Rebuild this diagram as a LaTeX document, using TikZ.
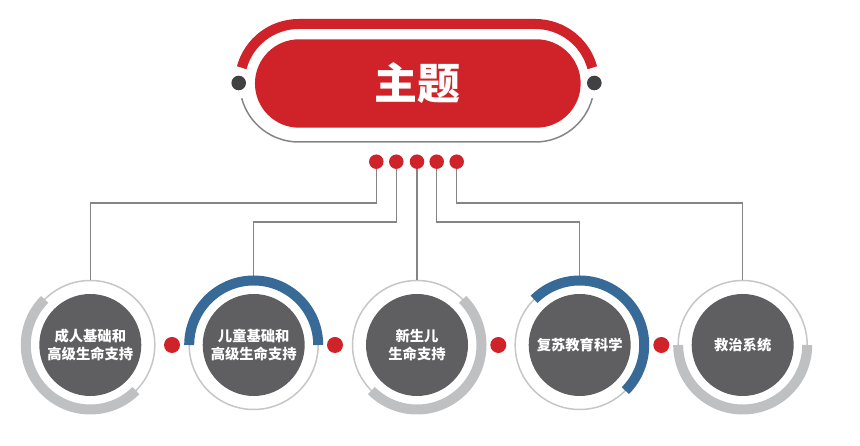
\documentclass[tikz,border=0pt]{standalone}
\usepackage{fontspec}
\newfontfamily\cjk{Noto Sans CJK SC}
\usetikzlibrary{positioning}
\definecolor{topicred}{HTML}{CF2229}
\definecolor{discgray}{HTML}{5F5E60}
\definecolor{arcgray}{HTML}{BFC0C2}
\definecolor{ringgray}{HTML}{C6C6C8}
\definecolor{linkgray}{HTML}{858585}
\definecolor{arcblue}{HTML}{376A97}
\definecolor{pindark}{HTML}{414042}
\tikzset{
        topic/.style={fill=topicred,text=white,rounded corners=44.2pt,minimum width=325.7pt,minimum height=88.4pt,inner sep=0pt,font=\cjk\bfseries\fontsize{43}{43}\selectfont},
        disc/.style={circle,fill=discgray,text=white,minimum size=102pt,inner sep=0pt,align=center,font=\cjk\bfseries\fontsize{14.3}{17.7}\selectfont},
        ring/.style={circle,draw=ringgray,line width=1.5pt,minimum size=129pt,inner sep=0pt},
        reddot/.style={circle,fill=topicred,minimum size=#1,inner sep=0pt},
        pin/.style={circle,fill=pindark,minimum size=14.6pt,inner sep=0pt},
        link/.style={draw=linkgray,line width=1.5pt},
        grayarc/.style={draw=arcgray,line width=10pt},
        bluearc/.style={draw=arcblue,line width=10pt}
}
\begin{document}
\begin{tikzpicture}[x=1pt,y=1pt]
        \useasboundingbox (0,0) rectangle (860,446);
        \node[topic] (0) at (417.8,362.5) {\raisebox{-4.5pt}{主题}};
        \node[pin] (p1) at (238.7,363) {};
        \node[pin] (p2) at (594.3,363) {};
        \node[reddot=14.5pt] (t1) at (376.3,284.3) {};
        \node[reddot=14.5pt] (t2) at (396.3,284.3) {};
        \node[reddot=14.5pt] (t3) at (417,284.3) {};
        \node[reddot=14.5pt] (t4) at (436.7,284.3) {};
        \node[reddot=14.5pt] (t5) at (456.7,284.3) {};
        \node[ring] (r1) at (90.3,101) {};
        \node[ring] (r2) at (253.7,101) {};
        \node[ring] (r3) at (417,101) {};
        \node[ring] (r4) at (579.7,101) {};
        \node[ring] (r5) at (742.7,101) {};
        \node[disc] (1) at (r1) {成人基础和\\高级生命支持};
        \node[disc] (2) at (r2) {儿童基础和\\高级生命支持};
        \node[disc] (3) at (r3) {新生儿\\生命支持};
        \node[disc] (4) at (r4) {复苏教育科学};
        \node[disc] (5) at (r5) {救治系统};
        \node[reddot=16pt] (d1) at (172,101) {};
        \node[reddot=16pt] (d2) at (335,101) {};
        \node[reddot=16pt] (d3) at (498.3,101) {};
        \node[reddot=16pt] (d4) at (661.3,101) {};
        \coordinate (j1) at (90.3,243);
        \coordinate (j2) at (253.7,224);
        \coordinate (j4) at (579.7,224);
        \coordinate (j5) at (742.7,243);
        \draw[link] (t1.south) |- (j1) -- (r1.north);
        \draw[link] (t2.south) |- (j2) -- (r2.north);
        \draw[link,line width=2.5pt] (t3.south) -- (r3.north);
        \draw[link] (t4.south) |- (j4) -- (r4.north);
        \draw[link] (t5.south) |- (j5) -- (r5.north);
        \draw[draw=topicred,line width=10pt] ([shift={(165:59pt)}]298.7,363) arc[start angle=165,end angle=90,radius=59pt] -- (535.3,422) arc[start angle=90,end angle=15,radius=59pt];
        \draw[link] ([shift={(195:59pt)}]298.7,363) arc[start angle=195,end angle=270,radius=59pt] -- (535.3,304) arc[start angle=270,end angle=345,radius=59pt];
        \draw[grayarc] ([shift={(135:64.5pt)}]r1) arc[start angle=135,end angle=315,radius=64.5pt];
        \draw[bluearc] ([shift={(180:64.5pt)}]r2) arc[start angle=180,end angle=0,radius=64.5pt];
        \draw[grayarc] ([shift={(45:64.5pt)}]r3) arc[start angle=45,end angle=-135,radius=64.5pt];
        \draw[bluearc] ([shift={(135:64.5pt)}]r4) arc[start angle=135,end angle=-45,radius=64.5pt];
        \draw[grayarc] ([shift={(180:64.5pt)}]r5) arc[start angle=180,end angle=360,radius=64.5pt];
    \end{tikzpicture}
\end{document}
